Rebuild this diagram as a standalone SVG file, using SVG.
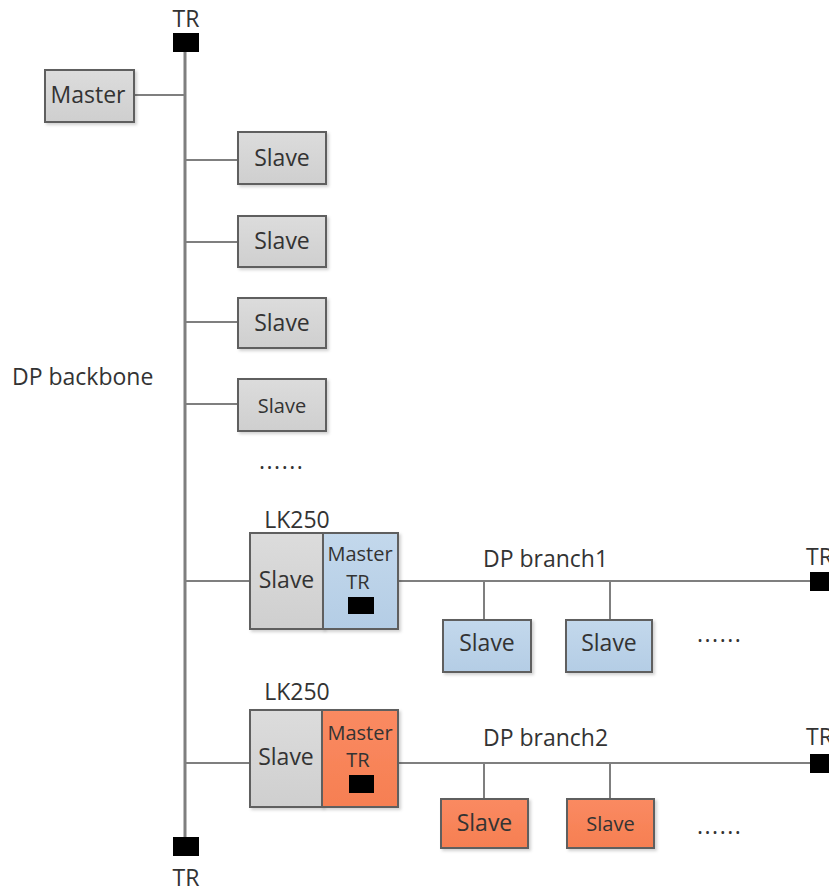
<svg xmlns="http://www.w3.org/2000/svg" width="829" height="889" viewBox="0 0 829 889">
<defs>
<linearGradient id="gGray" x1="0" y1="0" x2="0" y2="1"><stop offset="0" stop-color="#dcdcdc"/><stop offset="1" stop-color="#cfcfcf"/></linearGradient>
<linearGradient id="gBlue" x1="0" y1="0" x2="0" y2="1"><stop offset="0" stop-color="#c3d8ec"/><stop offset="1" stop-color="#b4cde5"/></linearGradient>
<linearGradient id="gOrange" x1="0" y1="0" x2="0" y2="1"><stop offset="0" stop-color="#fa8a62"/><stop offset="1" stop-color="#f67f52"/></linearGradient>
<filter id="sh" x="-10%" y="-10%" width="130%" height="130%"><feDropShadow dx="2" dy="2" stdDeviation="1.5" flood-color="#000" flood-opacity="0.18"/></filter>
</defs>
<style>
text{font-family:"Open Sans","Noto Sans","DejaVu Sans",sans-serif;fill:#333}
.box{stroke:#5f5f5f;stroke-width:2;filter:url(#sh)}
.gray{fill:url(#gGray)}
.blue{fill:url(#gBlue)}
.orange{fill:url(#gOrange)}
.ln{stroke:#7f7f7f;stroke-width:2;fill:none}
.bb{stroke:#7f7f7f;stroke-width:3;fill:none}
.tr{fill:#000}
.lbl{font-size:23px;text-anchor:middle}
.sm{font-size:20px;text-anchor:middle}
.t{font-size:23px}
.dots{font-size:23px;letter-spacing:1.5px}
</style>
<rect width="829" height="889" fill="#fff"/>
<g id="connectors">
<line class="bb" x1="185" y1="52" x2="185" y2="838"/>
<line class="ln" x1="134" y1="95" x2="185" y2="95"/>
<line class="ln" x1="185" y1="160" x2="238" y2="160"/>
<line class="ln" x1="185" y1="242" x2="238" y2="242"/>
<line class="ln" x1="185" y1="322" x2="238" y2="322"/>
<line class="ln" x1="185" y1="404" x2="238" y2="404"/>
<line class="ln" x1="185" y1="581" x2="250" y2="581"/>
<line class="ln" x1="398" y1="581" x2="810" y2="581"/>
<line class="ln" x1="484" y1="581" x2="484" y2="620"/>
<line class="ln" x1="610" y1="581" x2="610" y2="620"/>
<line class="ln" x1="185" y1="763" x2="250" y2="763"/>
<line class="ln" x1="398" y1="763" x2="810" y2="763"/>
<line class="ln" x1="484" y1="763" x2="484" y2="799"/>
<line class="ln" x1="610" y1="763" x2="610" y2="799"/>
</g>
<g id="tr-top"><text class="lbl" x="186" y="27">TR</text><rect class="tr" x="173" y="33" width="26" height="19"/></g>
<g id="tr-bottom"><rect class="tr" x="173" y="837" width="26" height="19"/><text class="lbl" x="186" y="886">TR</text></g>
<g id="backbone-label"><text class="t" x="12" y="385">DP backbone</text></g>
<g id="master"><rect class="box gray" x="45" y="70" width="89" height="52"/><text class="lbl" x="88" y="103">Master</text></g>
<g id="slave1"><rect class="box gray" x="238" y="132" width="88" height="52"/><text class="lbl" x="282" y="166">Slave</text></g>
<g id="slave2"><rect class="box gray" x="238" y="216" width="88" height="51"/><text class="lbl" x="282" y="249">Slave</text></g>
<g id="slave3"><rect class="box gray" x="238" y="298" width="88" height="50"/><text class="lbl" x="282" y="331">Slave</text></g>
<g id="slave4"><rect class="box gray" x="238" y="379" width="88" height="52"/><text class="sm" x="282" y="413">Slave</text></g>
<g id="dots-backbone"><text class="dots" x="259" y="469">......</text></g>
<g id="lk250-1">
<text class="lbl" x="297" y="528">LK250</text>
<rect class="box gray" x="250" y="533" width="73" height="96"/>
<text class="lbl" x="286.5" y="588">Slave</text>
<rect class="box blue" x="323" y="533" width="75" height="96"/>
<text class="sm" x="360" y="561">Master</text>
<text class="sm" x="358" y="589">TR</text>
<rect class="tr" x="348" y="597" width="26" height="17"/>
</g>
<g id="branch1-label"><text class="t" x="483" y="567">DP branch1</text></g>
<g id="tr-branch1"><text class="t" x="806" y="565">TR</text><rect class="tr" x="810" y="572" width="22" height="19"/></g>
<g id="b1-slave1"><rect class="box blue" x="443" y="620" width="88" height="52"/><text class="lbl" x="487" y="651">Slave</text></g>
<g id="b1-slave2"><rect class="box blue" x="566" y="620" width="86" height="52"/><text class="lbl" x="609" y="651">Slave</text></g>
<g id="b1-dots"><text class="dots" x="697" y="642">......</text></g>
<g id="lk250-2">
<text class="lbl" x="297" y="700">LK250</text>
<rect class="box gray" x="250" y="710" width="72" height="97"/>
<text class="lbl" x="286" y="765">Slave</text>
<rect class="box orange" x="322" y="710" width="76" height="97"/>
<text class="sm" x="360" y="740">Master</text>
<text class="sm" x="358" y="767">TR</text>
<rect class="tr" x="349" y="775" width="25" height="18"/>
</g>
<g id="branch2-label"><text class="t" x="483" y="746">DP branch2</text></g>
<g id="tr-branch2"><text class="t" x="806" y="745">TR</text><rect class="tr" x="810" y="754" width="22" height="19"/></g>
<g id="b2-slave1"><rect class="box orange" x="441" y="799" width="87" height="49"/><text class="lbl" x="484.5" y="831">Slave</text></g>
<g id="b2-slave2"><rect class="box orange" x="567" y="799" width="87" height="49"/><text class="sm" x="610.5" y="831">Slave</text></g>
<g id="b2-dots"><text class="dots" x="697" y="834">......</text></g>
</svg>
